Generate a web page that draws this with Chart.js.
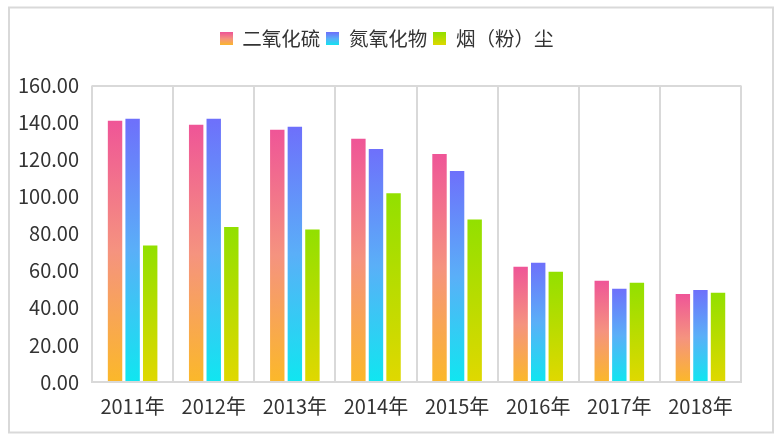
<!DOCTYPE html>
<html>
<head>
<meta charset="utf-8">
<script src="https://cdn.jsdelivr.net/npm/chart.js@4.4.0/dist/chart.umd.min.js"></script>
<style>
  html, body { margin: 0; padding: 0; background: #fff; }
  #wrap { width: 784px; height: 445px; }
</style>
</head>
<body>
<div id="wrap"><canvas id="chart" width="784" height="445"></canvas></div>
<script>
const years = ['2011年', '2012年', '2013年', '2014年', '2015年', '2016年', '2017年', '2018年'];
const so2 = [141.0, 138.8, 136.1, 131.2, 123.1, 62.2, 54.6, 47.5];
const nox = [142.1, 142.1, 137.7, 125.8, 113.8, 64.4, 50.3, 49.7];
const dust = [73.6, 83.6, 82.3, 101.9, 87.7, 59.5, 53.5, 48.1];

const gridColor = '#d9d9d9';
const fontFamily = '"Noto Sans CJK SC", "Noto Sans", sans-serif';

function barGradient(stops) {
    return function (context) {
        const chart = context.chart;
        if (!chart.chartArea || context.type !== 'data') {
            return stops[0][1];
        }
        const y = chart.scales.y;
        const top = y.getPixelForValue(context.raw);
        const bottom = y.getPixelForValue(0);
        const g = chart.ctx.createLinearGradient(0, top, 0, bottom);
        stops.forEach(s => g.addColorStop(s[0], s[1]));
        return g;
    };
}

function legendBox(stops) {
    const c = document.createElement('canvas');
    c.width = 13;
    c.height = 13;
    const cx = c.getContext('2d');
    const g = cx.createLinearGradient(0, 0, 0, 13);
    stops.forEach(s => g.addColorStop(s[0], s[1]));
    cx.fillStyle = g;
    cx.fillRect(0, 0, 13, 13);
    return c;
}

const pinkStops = [[0, '#ef5597'], [0.5, '#f5937f'], [1, '#fbb82a']];
const blueStops = [[0, '#6e70fb'], [0.5, '#5aaff8'], [1, '#10e6f0']];
const greenStops = [[0, '#92e000'], [1, '#e0d800']];

// white background + light frame round the whole picture
const outerFrame = {
    id: 'outerFrame',
    beforeDraw(chart) {
        const ctx = chart.ctx;
        ctx.save();
        ctx.fillStyle = '#fff';
        ctx.fillRect(0, 0, chart.width, chart.height);
        ctx.strokeStyle = gridColor;
        ctx.lineWidth = 2;
        ctx.strokeRect(9, 7.5, 764, 425);
        ctx.restore();
    }
};

// extra room under the legend, and re-centre it over the canvas
const legendGap = {
    id: 'legendGap',
    beforeInit(chart) {
        const fit = chart.legend.fit;
        chart.legend.fit = function () {
            fit.call(this);
            this.height += 27;
        };
    },
    afterUpdate(chart) {
        chart.legend.left = 23;
        chart.legend.right = 750;
    }
};

const datasets = [
    { label: '二氧化硫', data: so2, backgroundColor: barGradient(pinkStops), box: legendBox(pinkStops) },
    { label: '氮氧化物', data: nox, backgroundColor: barGradient(blueStops), box: legendBox(blueStops) },
    { label: '烟（粉）尘', data: dust, backgroundColor: barGradient(greenStops), box: legendBox(greenStops) }
].map(d => Object.assign(d, { categoryPercentage: 0.65, barPercentage: 0.82 }));

new Chart(document.getElementById('chart'), {
    type: 'bar',
    data: { labels: years, datasets: datasets },
    options: {
        responsive: false,
        animation: false,
        events: [],
        layout: { padding: { left: 5, right: 43, top: 23, bottom: 15 } },
        plugins: {
            tooltip: { enabled: false },
            legend: {
                labels: {
                    color: '#333',
                    font: { family: fontFamily, size: 19.5 },
                    usePointStyle: true,
                    boxWidth: 13,
                    boxHeight: 13,
                    padding: 6,
                    generateLabels(chart) {
                        return chart.data.datasets.map((d, i) => ({
                            text: d.label,
                            pointStyle: d.box,
                            fillStyle: 'transparent',
                            strokeStyle: 'transparent',
                            lineWidth: 0,
                            fontColor: '#333',
                            datasetIndex: i
                        }));
                    }
                }
            }
        },
        scales: {
            x: {
                grid: { color: gridColor, lineWidth: 2, drawTicks: false, offset: true },
                border: { color: gridColor, width: 2 },
                ticks: { color: '#333', padding: 12, font: { family: fontFamily, size: 20 } }
            },
            y: {
                min: 0,
                max: 160,
                grid: {
                    drawTicks: false,
                    lineWidth: 2,
                    color: ctx => (ctx.tick && ctx.tick.value === 160 ? gridColor : 'transparent')
                },
                border: { display: false },
                ticks: {
                    stepSize: 20,
                    color: '#333',
                    padding: 13,
                    font: { family: fontFamily, size: 20 },
                    callback: v => v.toFixed(2)
                }
            }
        }
    },
    plugins: [outerFrame, legendGap]
});
</script>
</body>
</html>
